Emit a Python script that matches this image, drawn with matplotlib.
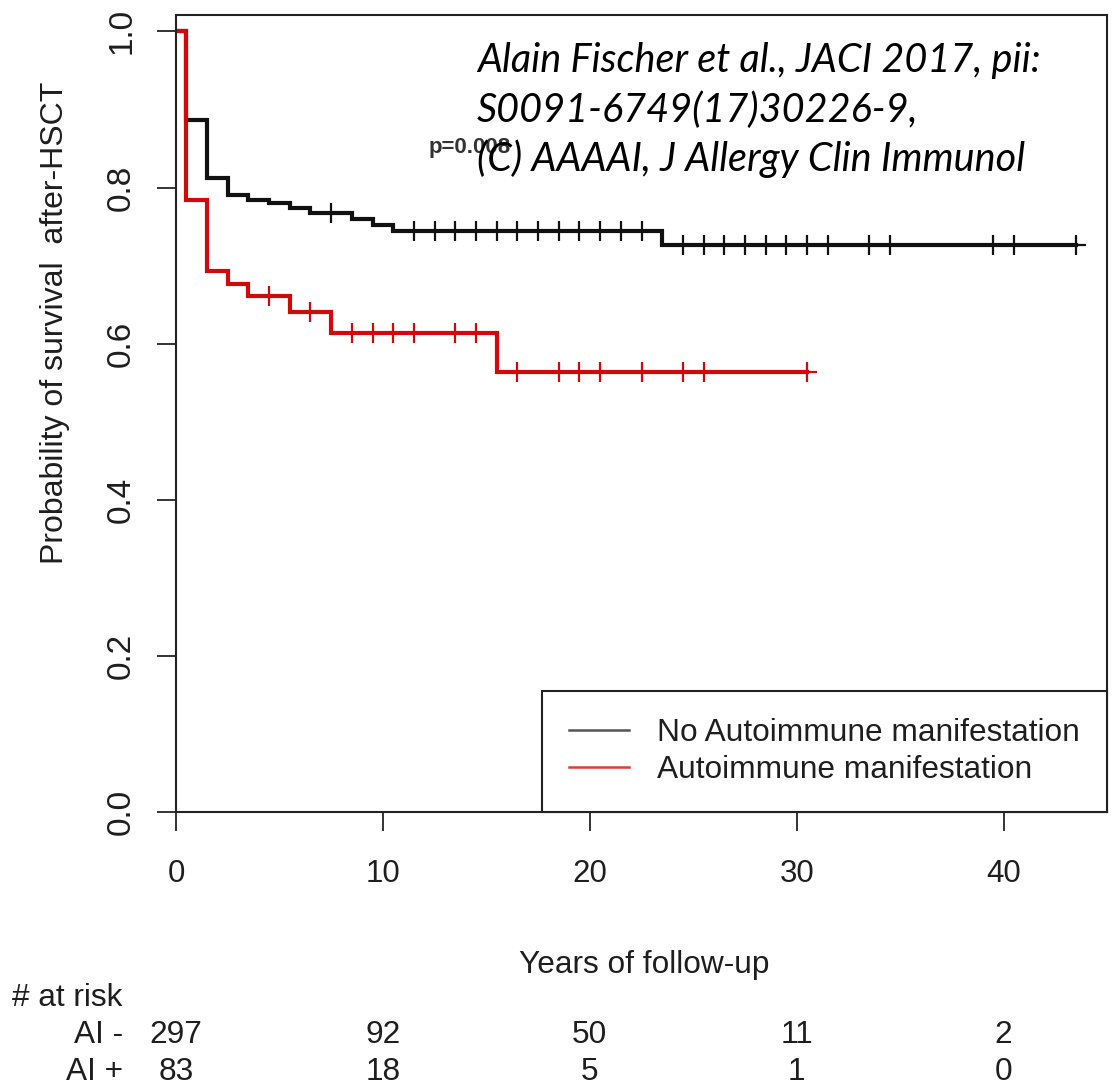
import numpy as np
import matplotlib
matplotlib.use("Agg")
import matplotlib.pyplot as plt
from matplotlib.lines import Line2D
import matplotlib.transforms as mtransforms

plt.rcParams['font.family'] = ['Liberation Sans', 'DejaVu Sans']

# Kaplan-Meier steps (years, survival) for both groups
no_ai_times = [0, 0.5, 1.5, 2.5, 3.5, 4.5, 5.5, 6.5, 8.5, 9.5, 10.5, 23.5]
no_ai_surv = [1.0, 0.887, 0.812, 0.790, 0.784, 0.780, 0.774, 0.767, 0.760, 0.752, 0.744, 0.726]
no_ai_end = 43.5
no_ai_censor = [7.5, 11.5, 12.5, 13.5, 14.5, 15.5, 16.5, 17.5, 18.5, 19.5, 20.5, 21.5, 22.5,
                24.5, 25.5, 26.5, 27.5, 28.5, 29.5, 30.5, 31.5, 33.5, 34.5, 39.5, 40.5, 43.5]

ai_times = [0, 0.5, 1.5, 2.5, 3.5, 5.5, 7.5, 15.5]
ai_surv = [1.0, 0.784, 0.693, 0.677, 0.661, 0.640, 0.614, 0.564]
ai_end = 30.5
ai_censor = [4.5, 6.5, 8.5, 9.5, 10.5, 11.5, 13.5, 14.5, 16.5, 18.5, 19.5, 20.5, 22.5,
             24.5, 25.5, 30.5]

# numbers at risk
risk_times = [0, 10, 20, 30, 40]
risk_no_ai = [297, 92, 50, 11, 2]
risk_ai = [83, 18, 5, 1, 0]

group_labels = ['No Autoimmune manifestation', 'Autoimmune manifestation']
row_labels = ['AI -', 'AI +']
black = '#111111'
red = '#d00a0a'
txt = '#1e1e1e'

fig = plt.figure(figsize=(11.15, 10.86), dpi=100)
W, H = 1115.0, 1086.0
ax = fig.add_axes([176 / W, 1 - 812 / H, (1107 - 176) / W, (812 - 15) / H])


def km_curve(times, surv, end, censor, color):
    t = np.array(times + [end])
    s = np.array(surv + [surv[-1]])
    ax.step(t, s, where='post', color=color, lw=3.0, solid_joinstyle='miter')
    idx = np.searchsorted(np.array(times), np.array(censor), side='right') - 1
    ax.plot(censor, np.array(surv)[idx], ls='none', marker='+', ms=15,
            mew=1.6, color=color)


km_curve(no_ai_times, no_ai_surv, no_ai_end, no_ai_censor, black)
km_curve(ai_times, ai_surv, ai_end, ai_censor, red)

ax.set_xlim(0, 45)
ax.set_ylim(0, 1.021)
ax.set_xticks(risk_times)
ax.set_yticks([0, 0.2, 0.4, 0.6, 0.8, 1.0])
ax.set_yticklabels(['0.0', '0.2', '0.4', '0.6', '0.8', '1.0'], rotation=90, va='center')
ax.tick_params(direction='out', length=14, width=1.4, colors='#333333',
               labelcolor=txt)
ax.tick_params(axis='x', pad=20, labelsize=22.5)
ax.tick_params(axis='y', pad=14, labelsize=24)
for sp in ax.spines.values():
    sp.set_linewidth(1.5)
    sp.set_color('#222222')

ax.text(14.2, 0.851, 'p=0.008', ha='center', va='center', fontsize=16,
        fontweight='bold', color='#333333')

handles = [Line2D([], [], color='#555555', lw=1.8), Line2D([], [], color='#e03a3a', lw=1.8)]
leg = ax.legend(handles, group_labels, loc='lower right', bbox_to_anchor=(1, 0),
                borderaxespad=0, fancybox=False, framealpha=1, edgecolor='#222222',
                fontsize=22.8, handlelength=1.9, handletextpad=0.9, borderpad=0.85,
                labelspacing=0.22)
leg.get_frame().set_linewidth(1.5)
for t in leg.get_texts():
    t.set_color(txt)

# axis titles
fig.text(55 / W, 1 - 323 / H, 'Probability of survival  after-HSCT', rotation=90,
         ha='center', va='center', fontsize=23, color=txt)
fig.text(644 / W, 1 - 965 / H, 'Years of follow-up', ha='center', va='center',
         fontsize=22.8, color=txt)

# risk table under the axis
trans = mtransforms.blended_transform_factory(ax.transData, fig.transFigure)
fig.text(12 / W, 1 - 998 / H, '# at risk', ha='left', va='center', fontsize=22.8,
         color=txt)
for row_y, name, counts in [(1035, row_labels[0], risk_no_ai), (1072, row_labels[1], risk_ai)]:
    fig.text(123 / W, 1 - row_y / H, name, ha='right', va='center', fontsize=22.8,
             color=txt)
    for t, n in zip(risk_times, counts):
        ax.text(t, 1 - row_y / H, str(n), transform=trans, ha='center', va='center',
                fontsize=22.8, color=txt, clip_on=False)

# citation overlay
cite = ['Alain Fischer et al., JACI 2017, pii:',
        'S0091-6749(17)30226-9,',
        '(C) AAAAI, J Allergy Clin Immunol']
for line, base in zip(cite, [72, 122, 171]):
    fig.text(477 / W, 1 - base / H, line, ha='left', va='baseline', fontsize=28.5,
             style='italic', family='Lato', color='black')

fig.savefig('out.png', dpi=100)
